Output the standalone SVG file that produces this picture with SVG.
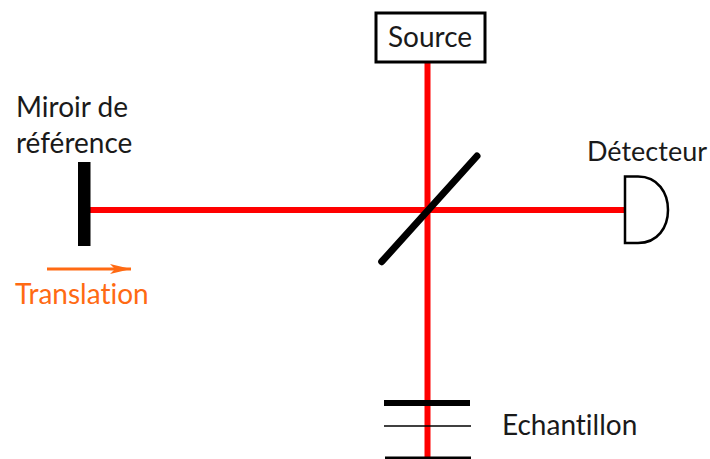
<svg xmlns="http://www.w3.org/2000/svg" width="710" height="459" viewBox="0 0 710 459">
<style>
text{font-family:"Lato","Open Sans",sans-serif;font-size:28px;fill:#1a1a1a;font-variant-ligatures:none}
.beam{stroke:#ff0000;stroke-width:6;fill:none}
.k{stroke:#000;fill:none}
</style>
<defs><marker id="a" markerUnits="userSpaceOnUse" markerWidth="22" markerHeight="12" refX="21" refY="6" orient="auto"><path d="M0 1L21 6L0 11L5 6Z" fill="#ff6a13"/></marker></defs>
<rect width="710" height="459" fill="#fff"/>
<g id="connectors">
<path class="beam" d="M427.5 62V459"/>
<path class="beam" d="M90 210H625"/>
<path d="M47 269H131" stroke="#ff6a13" stroke-width="3" fill="none" marker-end="url(#a)"/>
</g>
<g id="source"><rect x="376" y="13" width="109" height="49" fill="#fff" stroke="#000" stroke-width="3"/><text x="388" y="47">Source</text></g>
<g id="miroir"><rect x="78" y="162" width="12.500" height="84" fill="#000"/><text x="16" y="117">Miroir de</text><text x="16" y="153">référence</text></g>
<g id="translation"><text x="15" y="304" style="fill:#ff6a13">Translation</text></g>
<g id="separatrice"><path class="k" stroke-width="7" stroke-linecap="round" d="M477 156L381.700 261.700"/></g>
<g id="detecteur"><path d="M625 176.500H638C658 176.500 668 193 668 210C668 227 658 243 638 243H625Z" fill="#fff" stroke="#000" stroke-width="2.500"/><text x="587" y="160.500" style="font-size:27px">Détecteur</text></g>
<g id="echantillon"><path class="k" stroke-width="6" d="M384 403H470"/><path class="k" stroke-width="1.500" d="M384 426H471"/><path class="k" stroke-width="3" d="M385 458H471"/><text x="502" y="435">Echantillon</text></g>
</svg>
